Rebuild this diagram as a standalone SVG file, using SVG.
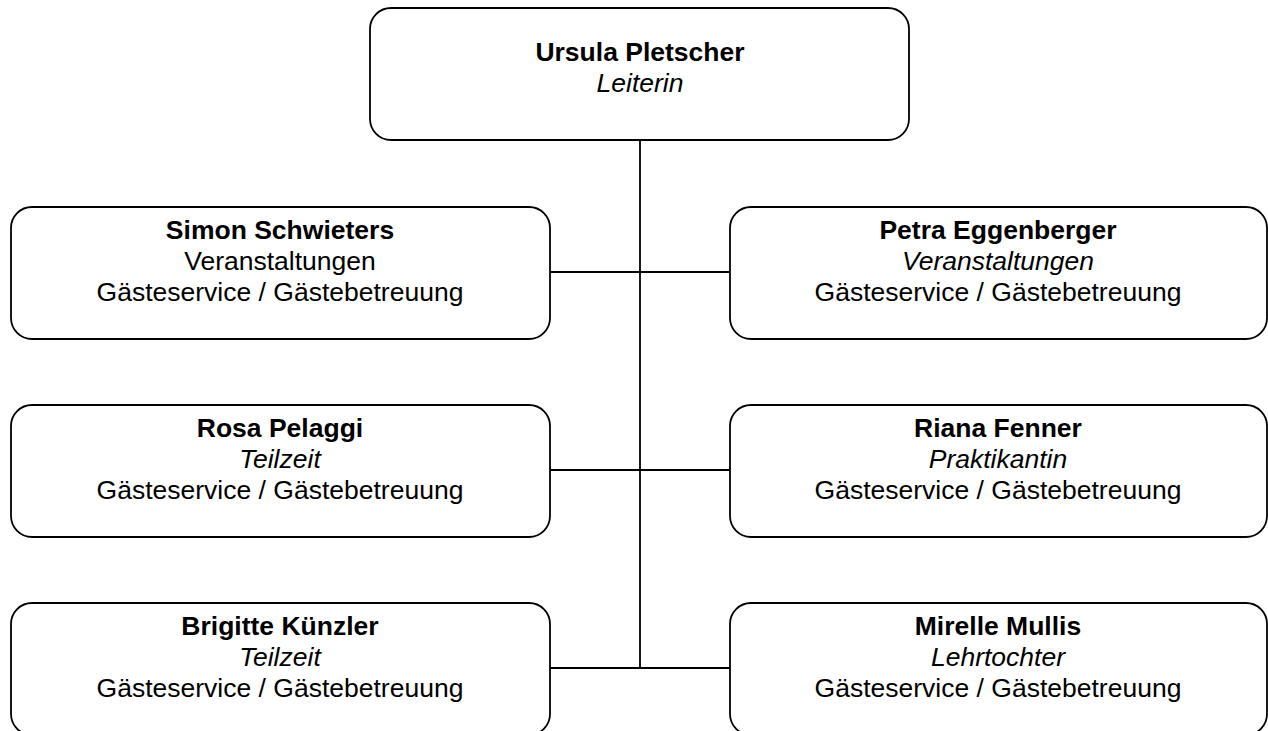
<svg xmlns="http://www.w3.org/2000/svg" width="1268" height="731" viewBox="0 0 1268 731">
<style>
.box{fill:#fff;stroke:#000;stroke-width:1.8}
.ln{stroke:#000;stroke-width:1.8;fill:none}
text{font-family:"Liberation Sans",Arial,sans-serif;font-size:26.5px;text-anchor:middle;fill:#000}
.b{font-weight:bold}
.i{font-style:italic}
</style>
<rect width="1268" height="731" fill="#fff"/>
<g id="connectors">
<line class="ln" x1="640" y1="140" x2="640" y2="668"/>
<line class="ln" x1="550" y1="272" x2="730" y2="272"/>
<line class="ln" x1="550" y1="470" x2="730" y2="470"/>
<line class="ln" x1="550" y1="668" x2="730" y2="668"/>
</g>
<g id="n-ursula">
<rect class="box" x="370" y="8" width="539" height="132" rx="21"/>
<text x="640" y="61" class="b">Ursula Pletscher</text>
<text x="640" y="92" class="i">Leiterin</text>
</g>
<g id="n-simon">
<rect class="box" x="11" y="207" width="539" height="132" rx="21"/>
<text x="280" y="239" class="b">Simon Schwieters</text>
<text x="280" y="270">Veranstaltungen</text>
<text x="280" y="301">Gästeservice / Gästebetreuung</text>
</g>
<g id="n-petra">
<rect class="box" x="730" y="207" width="537" height="132" rx="21"/>
<text x="998" y="239" class="b">Petra Eggenberger</text>
<text x="998" y="270" class="i">Veranstaltungen</text>
<text x="998" y="301">Gästeservice / Gästebetreuung</text>
</g>
<g id="n-rosa">
<rect class="box" x="11" y="405" width="539" height="132" rx="21"/>
<text x="280" y="437" class="b">Rosa Pelaggi</text>
<text x="280" y="468" class="i">Teilzeit</text>
<text x="280" y="499">Gästeservice / Gästebetreuung</text>
</g>
<g id="n-riana">
<rect class="box" x="730" y="405" width="537" height="132" rx="21"/>
<text x="998" y="437" class="b">Riana Fenner</text>
<text x="998" y="468" class="i">Praktikantin</text>
<text x="998" y="499">Gästeservice / Gästebetreuung</text>
</g>
<g id="n-brigitte">
<rect class="box" x="11" y="603" width="539" height="132" rx="21"/>
<text x="280" y="635" class="b">Brigitte Künzler</text>
<text x="280" y="666" class="i">Teilzeit</text>
<text x="280" y="697">Gästeservice / Gästebetreuung</text>
</g>
<g id="n-mirelle">
<rect class="box" x="730" y="603" width="537" height="132" rx="21"/>
<text x="998" y="635" class="b">Mirelle Mullis</text>
<text x="998" y="666" class="i">Lehrtochter</text>
<text x="998" y="697">Gästeservice / Gästebetreuung</text>
</g>
</svg>
